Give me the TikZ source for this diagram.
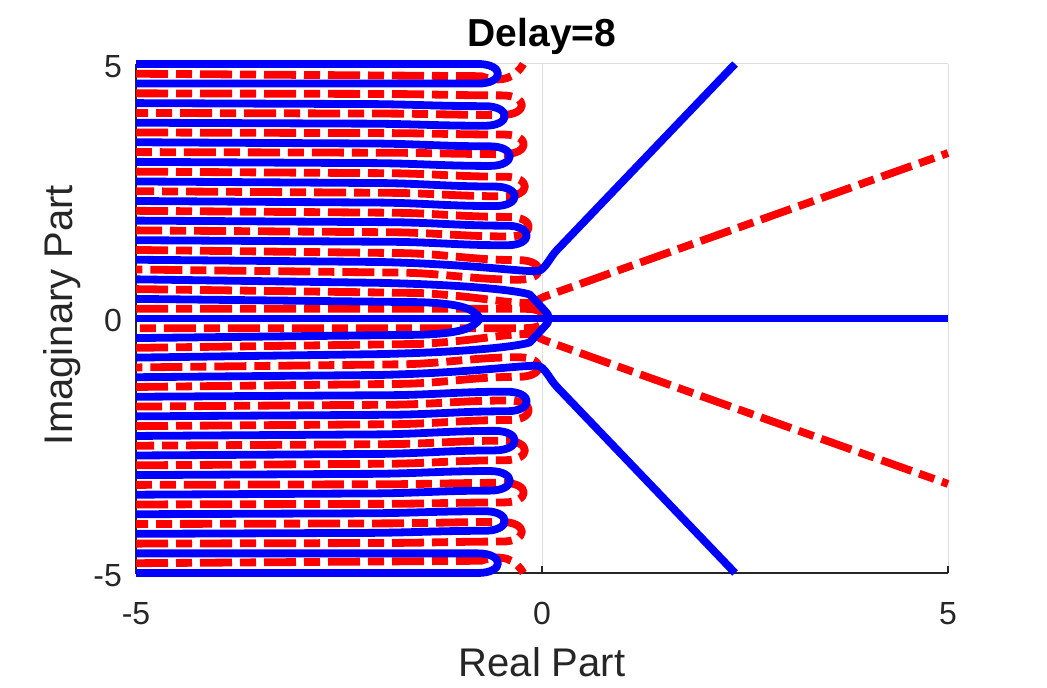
\documentclass[tikz,border=0pt]{standalone}
\usepackage{fontspec}
\setmainfont{Liberation Sans}
\definecolor{locblue}{RGB}{0,0,255}
\definecolor{locred}{RGB}{255,0,0}
\definecolor{gridgray}{RGB}{222,222,222}
\definecolor{axisgray}{RGB}{38,38,38}

\begin{document}
\begin{tikzpicture}[x=81.2pt,y=50.9pt,
	exact/.style={locblue,line width=7.8pt,line join=round},
	approx/.style={locred,line width=7.8pt,line join=round,dash pattern=on 32pt off 8pt on 16pt off 8pt},
	gridline/.style={gridgray,line width=1pt},
	axisline/.style={axisgray,line width=1.2pt},
	ticklabel/.style={axisgray,inner sep=0pt,font=\fontsize{32}{38}\selectfont},
	axislabel/.style={axisgray,inner sep=0pt,font=\fontsize{40}{48}\selectfont},
	titlelabel/.style={black,inner sep=0pt,font=\fontsize{39}{47}\selectfont\bfseries}]
			\useasboundingbox (-6.675,-7.259) rectangle (6.219,6.257);
			% grid and axes
			\foreach \v in {-5,0,5} {
				\draw[gridline] (\v,-5) -- (\v,5);
				\draw[gridline] (-5,\v) -- (5,\v);
			}
			\draw[axisline] (-5,5) -- (-5,-5) -- (5,-5);
			\foreach \v in {-5,0,5} {
				\draw[axisline] (\v,-5) -- (\v,-4.862);
				\draw[axisline] (-5,\v) -- (-4.914,\v);
				\node[ticklabel,anchor=base] (xtick\v) at (\v,-6.02) {\v};
				\node[ticklabel,anchor=base east] (ytick\v) at (-5.172,\v-0.26) {\v};
			}
			\node[titlelabel,anchor=base] (title) at (0,5.334) {Delay=8};
			\node[axislabel,anchor=base] (xlabel) at (0,-7.043) {Real Part};
			\node[axislabel,anchor=base,rotate=90] (ylabel) at (-5.788,0.069) {Imaginary Part};
			% red loci
			\foreach \ya/\yb/\xt/\s in {4.423/4.038/-0.246/0.04,3.654/3.269/-0.222/0.04,2.885/2.5/-0.209/0.1,2.115/1.731/-0.16/0.12,1.346/0.962/-0.037/0.2} {
				\foreach \sg in {1,-1} {
					\draw[approx] (-5,{\sg*\ya}) -- ({\xt-1.8},{\sg*(\ya-0.3*\s)}) to[out=0,in=180] ({\xt-0.25},{\sg*(\ya-\s)})
						.. controls ({\xt+0.08},{\sg*(\ya-\s)}) and ({\xt+0.08},{\sg*(\yb-\s)}) .. ({\xt-0.25},{\sg*(\yb-\s)})
						to[out=180,in=0] ({\xt-1.8},{\sg*(\yb-0.3*\s)}) -- (-5,{\sg*\yb});
				}
			}
			\foreach \sg in {1,-1} {
				\draw[approx] (-5,{\sg*4.808}) -- (-0.75,{\sg*4.76}) .. controls (-0.5,{\sg*4.62}) and (-0.33,{\sg*4.72}) .. (-0.23,{\sg*5});
				\draw[approx] (-5,{\sg*0.577}) -- (-1.5,{\sg*0.5}) .. controls (-0.8,{\sg*0.44}) and (-0.4,{\sg*0.28}) .. (-0.15,{\sg*0.31})
					.. controls (-0.08,{\sg*0.32}) and (-0.04,{\sg*0.39}) .. (0.05,{\sg*0.44}) -- (5,{\sg*3.25});
			}
			\draw[approx] (-5,0.192) -- (-1.8,0.19) to[out=0,in=180] (-0.2,0.19) .. controls (0.13,0.19) and (0.13,-0.19) .. (-0.2,-0.19)
				to[out=180,in=0] (-1.8,-0.19) -- (-5,-0.192);
			% blue loci
			\foreach \ya/\yb/\xt/\s in {5/4.615/-0.54/0,4.231/3.846/-0.456/0.06,3.462/3.077/-0.394/0.08,2.692/2.308/-0.333/0.1,1.923/1.538/-0.185/0.1} {
				\foreach \sg in {1,-1} {
					\draw[exact] (-5,{\sg*\ya}) -- ({\xt-1.8},{\sg*(\ya-0.3*\s)}) to[out=0,in=180] ({\xt-0.25},{\sg*(\ya-\s)})
						.. controls ({\xt+0.08},{\sg*(\ya-\s)}) and ({\xt+0.08},{\sg*(\yb-\s)}) .. ({\xt-0.25},{\sg*(\yb-\s)})
						to[out=180,in=0] ({\xt-1.8},{\sg*(\yb-0.3*\s)}) -- (-5,{\sg*\yb});
				}
			}
			\foreach \sg in {1,-1} {
				\draw[exact] (-5,{\sg*1.154}) -- (-2,{\sg*1.11}) .. controls (-0.8,{\sg*1.06}) and (-0.3,{\sg*0.92}) .. (-0.06,{\sg*0.93})
					.. controls (0.03,{\sg*0.93}) and (0.09,{\sg*1.188}) .. (0.185,{\sg*1.346}) -- (2.377,{\sg*5});
				\draw[exact] (-5,{\sg*0.385}) -- (-1.5,{\sg*0.32}) .. controls (-1.0,{\sg*0.29}) and (-0.85,{\sg*0.2}) .. (-0.76,0);
			}
			\draw[exact] (-5,0.769) -- (-2,0.7) .. controls (-0.9,0.66) and (-0.3,0.55) .. (-0.15,0.47) -- (0.03,0.16)
				.. controls (0.1,0.08) and (0.1,-0.08) .. (0.03,-0.16) -- (-0.15,-0.47) .. controls (-0.3,-0.55) and (-0.9,-0.66) .. (-2,-0.7) -- (-5,-0.769);
			\draw[exact] (-5,0) -- (5,0);
		\end{tikzpicture}
\end{document}
